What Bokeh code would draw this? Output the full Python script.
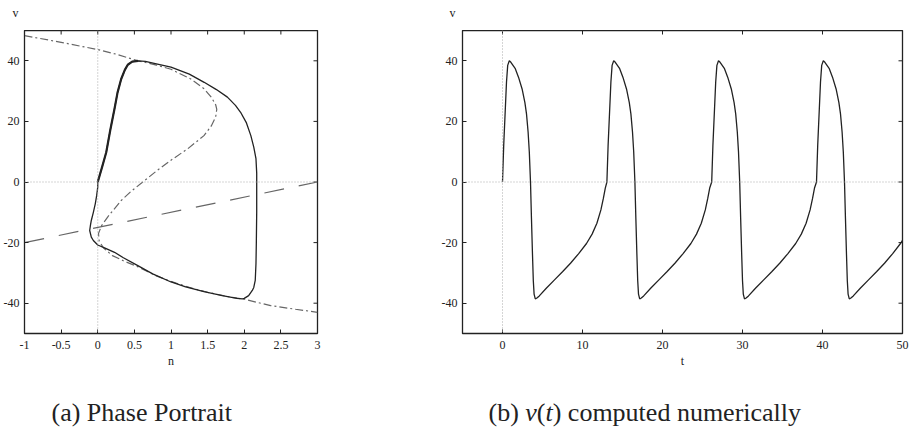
from bokeh.plotting import figure
from bokeh.layouts import row, column
from bokeh.models import Span, FixedTicker, Range1d
from bokeh.core.properties import value
from bokeh.embed import file_html
from bokeh.resources import INLINE

# ---------------- data ----------------
# Phase portrait: v-nullcline (dash-dot), n-nullcline (dashed line), limit cycle (solid)
v_null_n = [-1.0, -0.5, 0.0, 0.25, 0.55, 0.8, 1.0, 1.27, 1.45, 1.55, 1.61, 1.625,
            1.61, 1.55, 1.45, 1.23, 1.0, 0.8, 0.615, 0.45, 0.32, 0.14, 0.05, 0.01,
            0.02, 0.08, 0.2, 0.35, 0.55, 0.8, 1.0, 1.25, 1.5, 1.75, 2.0, 2.36, 2.7, 3.0]
v_null_v = [48.3, 46.1, 43.7, 42.2, 40.0, 38.6, 37.2, 34.0, 30.8, 28.0, 25.5, 24.0,
            21.5, 18.5, 15.3, 11.0, 7.2, 3.6, 0.0, -3.2, -6.1, -11.4, -14.5, -17.0,
            -19.5, -21.8, -24.3, -26.0, -28.0, -31.0, -32.8, -34.8, -36.4, -37.7, -38.7, -40.8, -42.0, -43.0]

n_null_n = [-1.0, 3.0]
n_null_v = [-20.0, 0.0]

cycle_n = [0.0, 0.06, 0.116, 0.17, 0.229, 0.27, 0.32, 0.37, 0.41, 0.47, 0.55,
           0.65, 0.8, 1.0, 1.25, 1.453, 1.62, 1.77, 1.88, 1.95, 2.03, 2.09, 2.13,
           2.16, 2.17, 2.17, 2.17, 2.165, 2.16, 2.15, 2.13, 2.11, 2.06, 2.0, 1.975,
           1.9, 1.7, 1.45, 1.2, 1.0, 0.75, 0.547, 0.35, 0.229, 0.1, 0.0, -0.06,
           -0.088, -0.11, -0.1, -0.088, -0.06, -0.034, -0.015, 0.0, 0.0]
cycle_v = [0.0, 5.0, 9.8, 17.0, 24.2, 29.5, 34.0, 37.0, 38.7, 39.7, 40.0,
           39.8, 39.0, 37.9, 35.6, 32.9, 30.5, 28.0, 25.3, 23.0, 19.5, 15.3, 11.5,
           7.7, 3.0, 0.0, -10.0, -20.0, -27.0, -32.5, -34.8, -35.8, -37.5, -38.4, -38.6,
           -38.4, -37.5, -36.2, -34.6, -33.0, -30.3, -27.6, -25.0, -23.2, -21.8, -20.8, -19.3,
           -18.2, -16.0, -14.3, -12.7, -10.0, -7.2, -4.5, -1.7, 0.0]

# Time course v(t)
t_vals = [0.0, 0.15, 0.35, 0.5, 0.65, 0.85, 1.05, 1.6, 2.0, 2.45, 2.8, 3.0, 3.2, 3.35, 3.5, 3.62,
          3.75, 3.85, 3.95, 4.1, 4.3, 4.6, 5.5, 6.5, 7.5, 8.5, 9.5, 10.5, 11.2, 11.8, 12.3, 12.6, 12.85,
          13.05, 13.2, 13.4, 13.55, 13.7, 13.9, 14.1, 14.65, 15.05, 15.5, 15.85, 16.05, 16.25, 16.4,
          16.55, 16.67, 16.8, 16.9, 17.0, 17.15, 17.35, 17.65, 18.55, 19.55, 20.55, 21.55, 22.55,
          23.55, 24.25, 24.85, 25.35, 25.65, 25.9,
          26.15, 26.3, 26.5, 26.65, 26.8, 27.0, 27.2, 27.75, 28.15, 28.6, 28.95, 29.15, 29.35, 29.5,
          29.65, 29.77, 29.9, 30.0, 30.1, 30.25, 30.45, 30.75, 31.65, 32.65, 33.65, 34.65, 35.65,
          36.65, 37.35, 37.95, 38.45, 38.75, 39.0,
          39.25, 39.4, 39.6, 39.75, 39.9, 40.1, 40.3, 40.85, 41.25, 41.7, 42.05, 42.25, 42.45, 42.6,
          42.75, 42.87, 43.0, 43.1, 43.2, 43.35, 43.55, 43.85, 44.75, 45.75, 46.75, 47.75, 48.75,
          49.75, 50.0]
v_vals = [0.0, 12.0, 24.0, 33.0, 38.5, 40.0, 39.5, 37.4, 34.6, 30.7, 26.2, 22.5, 16.5, 10.0, 0.0, -12.0,
          -24.0, -32.5, -37.0, -38.6, -38.3, -37.6, -35.0, -32.3, -29.6, -26.8, -23.7, -20.3, -17.2, -13.6, -9.2, -5.5, -2.0,
          0.0, 12.0, 24.0, 33.0, 38.5, 40.0, 39.5, 37.4, 34.6, 30.7, 26.2, 22.5, 16.5, 10.0,
          0.0, -12.0, -24.0, -32.5, -37.0, -38.6, -38.3, -37.6, -35.0, -32.3, -29.6, -26.8, -23.7,
          -20.3, -17.2, -13.6, -9.2, -5.5, -2.0,
          0.0, 12.0, 24.0, 33.0, 38.5, 40.0, 39.5, 37.4, 34.6, 30.7, 26.2, 22.5, 16.5, 10.0,
          0.0, -12.0, -24.0, -32.5, -37.0, -38.6, -38.3, -37.6, -35.0, -32.3, -29.6, -26.8, -23.7,
          -20.3, -17.2, -13.6, -9.2, -5.5, -2.0,
          0.0, 12.0, 24.0, 33.0, 38.5, 40.0, 39.5, 37.4, 34.6, 30.7, 26.2, 22.5, 16.5, 10.0,
          0.0, -12.0, -24.0, -32.5, -37.0, -38.6, -38.3, -37.6, -35.0, -32.3, -29.6, -26.8, -23.7,
          -20.3, -19.3]

# Ticks
n_ticks = [-1, -0.5, 0, 0.5, 1, 1.5, 2, 2.5, 3]
n_tick_labels = ["-1", "-0.5", "0", "0.5", "1", "1.5", "2", "2.5", "3"]
t_ticks = [0, 10, 20, 30, 40, 50]
t_tick_labels = ["0", "10", "20", "30", "40", "50"]
v_ticks = [-40, -20, 0, 20, 40]
v_tick_labels = ["-40", "-20", "0", "20", "40"]

SERIF = "Liberation Serif"
INK = "#222222"
FRAME_H = 303
BOTTOM = 52
PANEL_H = FRAME_H + BOTTOM
TICK_PX = 4
WIDTH = 910
HEAD_H = 30
FOOT_H = 429 - HEAD_H - PANEL_H


def panel(x_range, x_ticks, x_labels, x_name, width, b_left, b_right):
    frame_w = width - b_left - b_right
    p = figure(width=width, height=PANEL_H, title=None,
               min_border_left=b_left, min_border_right=b_right,
               min_border_top=0, min_border_bottom=BOTTOM,
               x_range=Range1d(*x_range), y_range=Range1d(-50, 50),
               output_backend="svg", toolbar_location=None)
    p.xgrid.visible = False
    p.ygrid.visible = False
    p.outline_line_color = INK
    p.outline_line_width = 1.3
    p.background_fill_color = "white"
    p.border_fill_color = "white"

    for ax, ticks, labels in ((p.xaxis[0], x_ticks, x_labels), (p.yaxis[0], v_ticks, v_tick_labels)):
        ax.ticker = FixedTicker(ticks=ticks)
        ax.major_label_overrides = {tk: lb for tk, lb in zip(ticks, labels)}
        ax.major_tick_in = TICK_PX
        ax.major_tick_out = 0
        ax.major_tick_line_color = INK
        ax.minor_tick_line_color = None
        ax.axis_line_color = INK
        ax.major_label_text_font = SERIF
        ax.major_label_text_font_size = "12px"
        ax.major_label_text_color = INK
    p.xaxis[0].major_label_standoff = 7
    p.yaxis[0].major_label_standoff = 5
    p.xaxis[0].axis_label = x_name
    p.xaxis[0].axis_label_text_font = SERIF
    p.xaxis[0].axis_label_text_font_style = "normal"
    p.xaxis[0].axis_label_text_font_size = "12px"
    p.xaxis[0].axis_label_text_color = INK
    p.xaxis[0].axis_label_standoff = 2

    # inward tick marks on the top and right edges of the frame
    x0, x1 = x_range
    dy = TICK_PX * 100.0 / FRAME_H
    dx = TICK_PX * (x1 - x0) / frame_w
    p.segment(x0=x_ticks, y0=[50] * len(x_ticks), x1=x_ticks, y1=[50 - dy] * len(x_ticks),
              line_color=INK, line_width=1)
    p.segment(x0=[x1] * len(v_ticks), y0=v_ticks, x1=[x1 - dx] * len(v_ticks), y1=v_ticks,
              line_color=INK, line_width=1)

    # dotted zero axes
    p.add_layout(Span(location=0, dimension="width", line_color="#aaaaaa",
                      line_dash="1 2", line_width=1))
    p.add_layout(Span(location=0, dimension="height", line_color="#aaaaaa",
                      line_dash="1 2", line_width=1))
    return p


def strip(height):
    # a blank full-width band whose data units are pixels, for free text
    s = figure(width=WIDTH, height=height, title=None,
               x_range=Range1d(0, WIDTH), y_range=Range1d(0, height),
               x_axis_type=None, y_axis_type=None, min_border=0,
               output_backend="svg", toolbar_location=None)
    s.xgrid.visible = False
    s.ygrid.visible = False
    s.outline_line_color = None
    s.background_fill_color = "white"
    s.border_fill_color = "white"
    return s


def put(s, xs, y, words, size, style="normal", align="left", baseline="alphabetic"):
    s.text(x=xs, y=[y] * len(xs), text=words, text_font=value(SERIF),
           text_font_size=value(size), text_font_style=style, text_color=INK,
           text_align=align, text_baseline=baseline)


# ---- header with the v axis names ----
head = strip(HEAD_H)
put(head, [15, 452], 18, ["v", "v"], "12px", align="center", baseline="middle")

# ---- (a) phase portrait ----
p1 = panel((-1, 3), n_ticks, n_tick_labels, "n", 420, 23, 103)
p1.line(n_null_n, n_null_v, line_color="#666666", line_width=1.2, line_dash="20 15")
p1.line(v_null_n, v_null_v, line_color="#666666", line_width=1.2, line_dash="8 3 2 3")
p1.line(cycle_n, cycle_v, line_color=INK, line_width=1.3)
p1.line(cycle_n[:11], cycle_v[:11], line_color=INK, line_width=2.2)

# ---- (b) v(t) ----
p2 = panel((-5, 50), t_ticks, t_tick_labels, "t", 490, 42, 8)
p2.line(t_vals, v_vals, line_color=INK, line_width=1.3)

# ---- captions ----
CAP_Y = 17
foot = strip(FOOT_H)
put(foot, [51, 488, 536.3, 552.2], CAP_Y,
    ["(a) Phase Portrait", "(b) ", "(", ") computed numerically"], "26px")
put(foot, [524.8, 545], CAP_Y, ["v", "t"], "26px", style="italic")

layout = column(head, row(p1, p2), foot)
open("out.html", "w").write(file_html(layout, INLINE))
